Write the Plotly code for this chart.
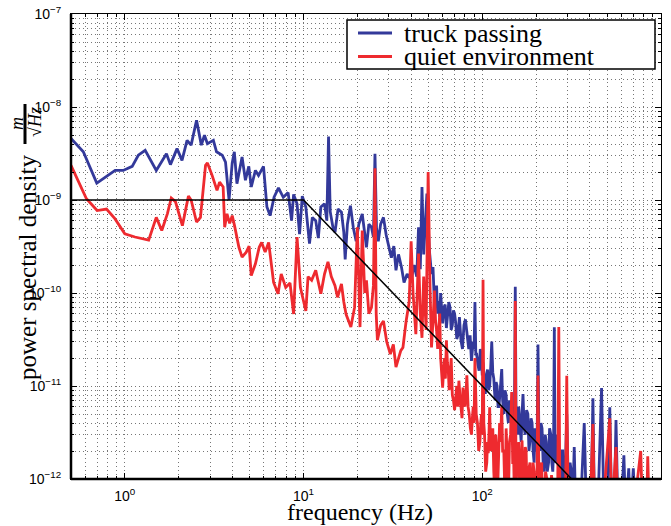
import math
import plotly.graph_objects as go

# ---------------- data ----------------
truck_f = [0.5, 0.586, 0.697, 0.883, 0.98, 1.1, 1.19, 1.30, 1.50, 1.71, 1.80, 1.96, 2.09, 2.23, 2.35,
           2.52, 2.68, 2.79, 2.90, 3.13, 3.26, 3.51, 3.66, 3.83, 3.99, 4.10, 4.24, 4.53, 4.73, 4.94,
           5.10, 5.38, 5.60, 5.97, 6.24, 6.50, 6.84, 7.24, 7.70, 8.20, 8.57, 8.80, 9.20, 9.50, 9.84,
           10.3, 10.8, 11.2, 11.7, 12.1, 12.5, 13.1, 13.5, 13.8, 14.1, 14.6, 15.0, 15.6, 16.3, 16.8,
           17.1, 17.6, 18.3, 19.0, 19.7, 20.4, 21.3, 22.0, 22.5, 23.2, 24.0, 24.6, 25.1, 25.6, 26.2,
           27.0, 28.0, 29.0, 30.0, 31.0, 32.0, 32.9, 34.0, 35.3, 36.5, 38.0, 40.0, 41.5, 43.0, 44.0,
           45.0, 46.0, 47.0, 49.0, 50.5, 52.0, 53.0, 54.0,
           55.5, 56.3, 57.0, 57.8, 58.5, 59.3, 60.0, 61.0, 62.0, 63.0, 64.0, 65.0, 66.0, 67.0, 68.0,
           69.0, 70.0, 71.0, 72.0, 73.0, 74.5, 76.0, 77.5, 79.0, 80.5, 82.0, 83.0, 84.0, 85.5, 87.0,
           88.0, 89.0, 90.0, 91.0, 92.0, 93.0, 94.5, 96.0, 97.5, 99.0, 100.0, 101.0, 102.5, 104.0,
           105.5, 107.0, 108.5, 110.0, 111.5, 113.0, 114.5, 116.0, 117.0, 118.0, 119.5, 121.0, 122.5,
           124.0, 126.0, 128.5, 130.0, 132.0, 134.0, 136.0, 138.0, 140.0, 142.0, 144.0, 146.0, 148.0,
           150.0, 151.5, 153.0, 154.5, 156.0, 158.0, 160.0, 162.5, 165.0, 167.0, 169.0, 171.5, 174.0,
           177.0, 180.0, 182.5, 185.0, 187.5, 190.0, 192.5, 195.0, 197.5, 200.0, 202.5, 205.0, 207.5,
           210.0, 213.0, 216.0, 219.0, 222.0, 225.0, 228.0, 231.0, 235.0, 238.0, 242.0, 245.0, 248.0,
           250.5, 253.0, 255.5, 258.0, 261.5, 265.0, 270.0, 275.0, 278.5, 282.0, 286.0, 290.0, 293.5,
           297.0, 301.0, 305.0, 310.0, 315.0, 321.0, 327.0, 331.0, 335.0,
           345.0, 355.0, 372.0, 382.0, 395.0, 405.0, 416.0, 425.0,
           445.0, 465.0, 480.0, 500.0, 517.0, 530.0, 548.0, 560.0, 575.0, 600.0, 620.0, 635.0, 660.0,
           675.0, 700.0, 720.0, 770.0, 800.0, 843.0, 880.0, 950.0, 1000.0]
truck_v = [4.6e-9, 3.3e-9, 1.52e-9, 2.08e-9, 2.08e-9, 2.3e-9, 3.03e-9, 3.42e-9, 2.08e-9, 3.15e-9, 2.4e-9,
           3.57e-9, 2.67e-9, 4.38e-9, 3.89e-9, 7.2e-9, 3.89e-9, 4.97e-9, 4.04e-9, 4.38e-9, 3.3e-9,
           3.03e-9, 2.56e-9, 1.0e-9, 2.5e-9, 3.3e-9, 1.5e-9, 2.9e-9, 1.63e-9, 2.3e-9, 1.38e-9, 2.08e-9,
           1.84e-9, 2.3e-9, 8.4e-10, 6.8e-10, 1.07e-9, 1.35e-9, 1.07e-9, 1.2e-9, 6.0e-10, 1.15e-9,
           9.1e-10, 4.3e-10, 1.1e-9, 8.4e-10, 3.4e-10, 6.5e-10, 6.0e-10, 3.9e-10, 8.4e-10, 9.1e-10,
           6.0e-10, 4.8e-9, 7.5e-10, 5.1e-10, 4.5e-10, 8.0e-10, 7.4e-10, 4.5e-10, 2.3e-10, 5.5e-10,
           8.7e-10, 5.0e-10, 3.6e-10, 5.5e-10, 7.1e-10, 4.5e-10, 3.1e-10, 5.5e-10, 5.1e-10, 4.0e-10,
           3.15e-9, 5.0e-10, 3.6e-10, 5.5e-10, 6.5e-10, 4.2e-10, 3.1e-10, 2.4e-10, 3.2e-10, 1.75e-10,
           2.6e-10, 1.9e-10, 1.3e-10, 1.6e-10, 1.37e-10, 2.0e-10, 1.5e-10, 5.1e-10, 1.8e-10, 1.38e-9,
           2.6e-10, 1.17e-9, 3.0e-10, 1.6e-10, 1.9e-10, 7.6e-11,
           1.2e-10, 6.0e-11, 8.2e-11, 5.5e-11, 1.0e-10, 6.0e-11, 4.7e-11, 7.0e-11, 7.5e-11, 4.2e-11,
           5.5e-11, 8.0e-11, 7.0e-11, 4.0e-11, 4.5e-11, 6.5e-11, 6.0e-11, 4.8e-11, 3.2e-11, 3.5e-11,
           5.5e-11, 3.1e-11, 2.5e-11, 4.5e-11, 5.2e-11, 3.9e-11, 2.8e-11, 2.5e-11, 3.5e-11, 1.86e-11,
           2.4e-11, 3.0e-11, 2.5e-11, 8.0e-11, 2.2e-11, 2.2e-11, 1.7e-11, 1.46e-11, 2.5e-11, 2.0e-11,
           1.3e-11, 1.8e-11, 1.2e-11, 8.2e-12, 1.3e-11, 1.5e-11, 9.0e-12, 1.0e-11, 1.6e-11, 3.0e-11,
           1.4e-11, 1.2e-11, 9.0e-12, 7.0e-12, 1.1e-11, 1.0e-11, 6.0e-12, 6.0e-12, 9.0e-12, 1.52e-11,
           7.0e-12, 5.0e-12, 9.0e-12, 8.0e-12, 5.0e-12, 4.0e-12, 7.0e-12, 5.0e-12, 6.0e-12, 3.5e-12,
           3.0e-12, 6.0e-12, 1.17e-10, 5.0e-12, 4.0e-12, 3.0e-12, 6.0e-12, 3.5e-12, 2.5e-12, 5.0e-12,
           8.2e-12, 3.5e-12, 3.0e-12, 5.5e-12, 5.0e-12, 2.0e-12, 2.6e-12, 4.5e-12, 4.0e-12, 2.0e-12,
           1.5e-12, 3.5e-12, 3.0e-12, 2.0e-12, 2.8e-11, 2.5e-12, 2.0e-12, 4.0e-12, 3.5e-12, 1.5e-12,
           1.2e-12, 3.0e-12, 2.5e-12, 1.2e-12, 1.5e-12, 3.5e-12, 3.0e-12, 1.5e-12, 1.2e-12, 2.0e-12,
           4.27e-11, 2.0e-12, 1.5e-12, 3.0e-12, 2.5e-12, 1.2e-12, 8.0e-13, 2.0e-12, 2.0e-12, 9.0e-13,
           7.0e-13, 2.0e-12, 5.0e-12, 1.5e-12, 6.0e-13, 1.5e-12, 1.2e-12, 6.0e-13, 2.2e-12, 8.0e-13,
           5.0e-13,
           1.0e-12, 5.0e-13, 4.0e-12, 5.0e-13, 8.0e-13, 4.0e-13, 7.4e-12, 4.0e-13,
           6.0e-13, 9.5e-12, 4.0e-13, 5.0e-13, 5.9e-12, 4.0e-13, 5.0e-13, 4.3e-12, 4.0e-13, 5.0e-13,
           1.8e-12, 4.0e-13, 1.3e-12, 4.0e-13, 1.3e-12, 4.0e-13, 5.0e-13, 4.0e-13, 5.0e-13, 4.0e-13,
           4.0e-13, 4.0e-13]

quiet_f = [0.5, 0.61, 0.70, 0.79, 0.88, 1.0, 1.14, 1.36, 1.50, 1.61, 1.73, 1.82, 1.92, 2.10, 2.27, 2.35,
           2.52, 2.65, 2.83, 2.90, 3.08, 3.28, 3.39, 3.55, 3.62, 3.73, 3.86, 3.99, 4.11, 4.35, 4.53,
           4.78, 4.96, 5.10, 5.38, 5.65, 5.83, 6.10, 6.38, 6.80, 7.20, 7.50, 7.95, 8.40, 8.80, 9.20,
           9.60, 10.0, 10.3, 10.6, 11.1, 11.7, 12.5, 13.1, 13.7, 14.3, 15.0, 15.5, 16.3, 16.8, 17.3,
           18.4, 19.3, 20.0, 20.7, 21.3, 22.0, 22.5, 23.2, 24.0, 24.6, 25.1, 25.5, 25.9, 27.0, 28.0,
           29.2, 30.6, 31.8, 32.9, 34.0, 35.0, 36.0, 37.5, 39.0, 40.0, 41.0, 42.5, 44.0, 45.0, 46.0,
           47.0, 48.5, 49.8, 51.0,
           52.0, 53.0, 54.0, 54.8, 55.5, 56.3, 57.0, 57.8, 58.5, 59.3, 60.0, 60.8, 61.5, 62.2, 63.0,
           63.8, 64.5, 65.3, 66.0, 67.0, 68.0, 69.0, 70.0, 71.0, 72.0, 73.0, 74.0, 75.0, 76.0, 77.0,
           78.0, 79.0, 80.0, 81.0, 82.0, 83.3, 84.5, 85.8, 87.0, 88.0, 89.0, 90.0, 91.0, 92.5, 94.0,
           95.5, 97.0, 98.0, 99.0, 100.0, 101.0, 102.0, 103.0, 104.5, 106.0, 107.0, 108.0, 109.0,
           110.0, 111.5, 113.0, 114.5, 116.0, 117.5, 119.0, 120.5, 122.0, 123.5, 125.0, 126.5, 128.5,
           130.0, 132.0, 134.0, 136.0, 138.0, 140.0, 142.0, 144.0, 146.0, 148.0, 150.0, 151.5, 153.0,
           154.5, 156.0, 158.0, 160.0, 161.5, 163.0, 165.0, 167.0, 169.5, 172.0, 174.0, 176.0, 178.0,
           180.0, 182.5, 185.0, 187.5, 190.0, 192.5, 195.0, 197.5, 200.0, 202.5, 205.0, 208.0, 211.0,
           215.0, 218.0, 222.0, 226.0, 230.0, 235.0, 240.0, 244.0, 248.0, 254.0, 260.0, 264.0, 268.0,
           272.0, 278.0, 285.0, 292.0, 297.0, 302.0, 312.0, 320.0, 330.0,
           340.0, 400.0, 416.0, 425.0, 470.0, 517.0, 530.0, 560.0, 575.0, 700.0,
           770.0, 790.0, 830.0, 843.0, 860.0, 1000.0]
quiet_v = [2.36e-9, 1.03e-9, 7.7e-10, 8.0e-10, 6.3e-10, 4.33e-10, 4.0e-10, 3.7e-10, 6.5e-10, 4.7e-10,
           7.1e-10, 1.05e-9, 9.6e-10, 5.3e-10, 1.1e-9, 1.0e-9, 5.8e-10, 6.5e-10, 2.36e-9, 2.5e-9,
           1.84e-9, 1.27e-9, 1.56e-9, 1.38e-9, 5.1e-10, 7.1e-10, 5.6e-10, 6.8e-10, 5.3e-10, 3.1e-10,
           2.43e-10, 2.75e-10, 3.2e-10, 1.54e-10, 2.06e-10, 3.1e-10, 3.5e-10, 2.75e-10, 3.5e-10, 1.3e-10,
           9.8e-11, 1.6e-10, 1.15e-10, 1.28e-10, 5.95e-11, 4.0e-10, 1.15e-10, 8.2e-11, 6.4e-11, 1.5e-10,
           1.37e-10, 1.75e-10, 9.8e-11, 1.6e-10, 2.16e-10, 1.5e-10, 1.2e-10, 9.0e-11, 1.25e-10, 8.0e-11,
           5.9e-11, 4.3e-11, 7.0e-11, 5.1e-10, 4.3e-11, 4.7e-10, 1.0e-10, 1.37e-10, 6.0e-11, 7.0e-11,
           1.2e-10, 2.2e-9, 6.0e-11, 3.1e-11, 4.5e-11, 5.0e-11, 3.0e-11, 2.2e-11, 2.8e-11, 1.6e-11,
           2.0e-11, 2.4e-11, 2.6e-11, 5.0e-11, 8.0e-11, 3.6e-10, 1.0e-10, 3.6e-11, 2.65e-10, 6.0e-11,
           3.3e-11, 1.5e-10, 4.0e-11, 2.0e-9, 1.2e-10,
           2.6e-11, 5.0e-11, 1.06e-10, 5.0e-11, 4.0e-11, 2.5e-11, 3.6e-11, 6.0e-11, 2.0e-11, 1.3e-11,
           9.6e-12, 1.5e-11, 2.0e-11, 1.2e-11, 3.1e-11, 1.8e-11, 1.5e-11, 9.0e-12, 1.3e-11, 2.0e-11,
           8.0e-12, 7.0e-12, 5.5e-12, 8.0e-12, 1.0e-11, 6.0e-12, 1.14e-11, 8.0e-12, 6.0e-12, 4.5e-12,
           9.6e-12, 7.0e-12, 6.0e-12, 8.0e-12, 1.3e-11, 6.0e-12, 5.0e-12, 3.5e-12, 3.0e-12, 4.5e-12,
           6.0e-12, 4.0e-12, 2.0e-11, 5.0e-12, 4.0e-12, 2.0e-12, 2.5e-12, 4.0e-12, 5.0e-12, 3.0e-12,
           1.39e-10, 4.0e-12, 3.0e-12, 1.2e-12, 1.5e-12, 2.5e-12, 1.9e-12, 3.0e-12, 5.9e-12, 2.0e-12,
           2.5e-12, 3.5e-12, 1.2e-12, 7.0e-13, 3.0e-12, 2.0e-12, 8.0e-13, 1.5e-12, 4.0e-12, 2.5e-12,
           6.0e-12, 2.0e-12, 2.0e-12, 6.0e-13, 3.5e-12, 1.5e-12, 6.0e-13, 2.5e-12, 3.0e-12, 8.6e-12,
           1.5e-12, 1.5e-12, 5.0e-13, 8.2e-11, 8.0e-13, 1.2e-12, 2.0e-12, 2.5e-12, 1.0e-12, 6.0e-13,
           1.5e-12, 2.6e-12, 8.0e-13, 1.0e-12, 2.2e-12, 2.0e-12, 7.0e-13, 6.0e-13, 1.3e-12, 1.5e-12,
           6.0e-13, 5.0e-13, 1.5e-12, 1.2e-12, 5.0e-13, 6.0e-13, 1.2e-12, 1.3e-11, 5.0e-13, 1.3e-12,
           1.5e-12, 5.0e-13, 5.0e-13, 1.2e-12, 1.0e-12, 5.0e-13, 5.0e-13, 1.1e-12, 8.0e-13, 5.0e-13,
           5.0e-13, 5.0e-13, 4.3e-11, 5.0e-13, 9.0e-13, 1.0e-12, 5.0e-13, 1.29e-11, 5.0e-13, 8.0e-13,
           7.0e-13, 4.0e-13,
           4.0e-13, 4.0e-13, 3.9e-12, 4.0e-13, 4.0e-13, 4.5e-12, 4.0e-13,
           2.2e-12, 4.0e-13, 4.0e-13, 2.0e-12, 4.0e-13, 4.0e-13, 1.75e-12, 4.0e-13, 4.0e-13]

model_f = [0.5, 10.0, 316.2]
model_v = [1e-9, 1e-9, 1e-12]

series_names = ["truck passing", "quiet environment"]
x_tick_vals = [1, 10, 100, 1000]
x_tick_text = ["10<sup>0</sup>", "10<sup>1</sup>", "10<sup>2</sup>", "10<sup>3</sup>"]
y_tick_vals = [1e-12, 1e-11, 1e-10, 1e-9, 1e-8, 1e-7]
y_tick_text = ["10<sup>\u221212</sup>", "10<sup>\u221211</sup>", "10<sup>\u221210</sup>",
               "10<sup>\u22129</sup>", "10<sup>\u22128</sup>", "10<sup>\u22127</sup>"]

# ---------------- layout helpers ----------------
W, H = 671, 526
ML, MR, MT, MB = 71, 10, 14, 47
PW, PH = W - ML - MR, H - MT - MB


def px(x):
    return (x - ML) / PW


def py(y):
    return 1 - (y - MT) / PH


x_minor = [m * 10 ** e for e in range(-1, 3) for m in range(2, 10) if m * 10 ** e >= 0.5]
y_minor = [m * 10.0 ** e for e in range(-12, -7) for m in range(2, 10)]

BLUE = "#33399a"
RED = "#ee2a2f"
GRID = "rgba(60,60,60,0.7)"
GDASH = "1px,3px"
serif = "Liberation Serif, Times New Roman"
colors = [BLUE, RED]

fig = go.Figure()
fig.add_trace(go.Scatter(x=truck_f, y=truck_v, mode="lines", name=series_names[0],
                         line=dict(color=BLUE, width=2.8)))
fig.add_trace(go.Scatter(x=quiet_f, y=quiet_v, mode="lines", name=series_names[1],
                         line=dict(color=RED, width=2.8)))
fig.add_trace(go.Scatter(x=model_f, y=model_v, mode="lines", name="model",
                         line=dict(color="black", width=1.5)))

axis_common = dict(
    type="log", ticks="inside", ticklen=6, tickwidth=1, tickcolor="black",
    showline=True, linewidth=1, linecolor="black", mirror="allticks", automargin=False,
    showgrid=True, gridcolor=GRID, gridwidth=1, griddash=GDASH, zeroline=False,
    tickfont=dict(family="Liberation Sans, Arial", size=14, color="black"),
)

fig.update_layout(
    width=W, height=H,
    margin=dict(l=ML, r=MR, t=MT, b=MB, pad=0),
    paper_bgcolor="white", plot_bgcolor="white",
    showlegend=False,
    xaxis=dict(axis_common, range=[math.log10(0.5), 3], tickmode="array",
               tickvals=x_tick_vals, ticktext=x_tick_text, ticklabelstandoff=4,
               minor=dict(tickmode="array", tickvals=x_minor, ticks="inside", ticklen=3,
                          tickcolor="black", showgrid=True, gridcolor=GRID, griddash=GDASH)),
    yaxis=dict(axis_common, range=[-12, -7], tickmode="array",
               tickvals=y_tick_vals, ticktext=y_tick_text, ticklabelstandoff=6,
               minor=dict(tickmode="array", tickvals=y_minor, ticks="inside", ticklen=3,
                          tickcolor="black", showgrid=True, gridcolor=GRID, griddash=GDASH)),
)

# thicker left and bottom frame lines (MATLAB-like)
fig.add_shape(type="line", xref="paper", yref="paper", x0=0, x1=0, y0=0, y1=1,
              line=dict(color="black", width=2.5))
fig.add_shape(type="line", xref="paper", yref="paper", x0=0, x1=1, y0=0, y1=0,
              line=dict(color="black", width=2.5))

# x-axis title
fig.add_annotation(text="frequency (Hz)", xref="paper", yref="paper",
                   x=px(360), y=py(512), xanchor="center", yanchor="middle", showarrow=False,
                   font=dict(family=serif, size=24, color="black"))

# y-axis label with a fraction m / sqrt(Hz)
fig.add_annotation(text="power spectral density", xref="paper", yref="paper",
                   x=px(27), y=py(268), xanchor="center", yanchor="middle",
                   textangle=-90, showarrow=False,
                   font=dict(family=serif, size=25, color="black"))
fig.add_annotation(text="<i>m</i>", xref="paper", yref="paper",
                   x=px(17), y=py(124), xanchor="center", yanchor="middle",
                   textangle=-90, showarrow=False,
                   font=dict(family=serif, size=18, color="black"))
fig.add_annotation(text="\u221a<i>Hz</i>", xref="paper", yref="paper",
                   x=px(35), y=py(122), xanchor="center", yanchor="middle",
                   textangle=-90, showarrow=False,
                   font=dict(family=serif, size=18, color="black"))
fig.add_shape(type="line", xref="paper", yref="paper",
              x0=px(25), x1=px(25), y0=py(104), y1=py(144),
              line=dict(color="black", width=3))

# legend box (drawn like the reference)
fig.add_shape(type="rect", xref="paper", yref="paper",
              x0=px(347), x1=px(655), y0=py(20), y1=py(69),
              line=dict(color="black", width=1.5), fillcolor="white", layer="above")
for i, (name, col) in enumerate(zip(series_names, colors)):
    yy = 33 + i * 23.5
    fig.add_shape(type="line", xref="paper", yref="paper",
                  x0=px(358), x1=px(392), y0=py(yy), y1=py(yy),
                  line=dict(color=col, width=3), layer="above")
    fig.add_annotation(text=name, xref="paper", yref="paper", x=px(402), y=py(yy),
                       xanchor="left", yanchor="middle", showarrow=False,
                       font=dict(family=serif, size=26, color="black"))

fig.write_html("out.html")
